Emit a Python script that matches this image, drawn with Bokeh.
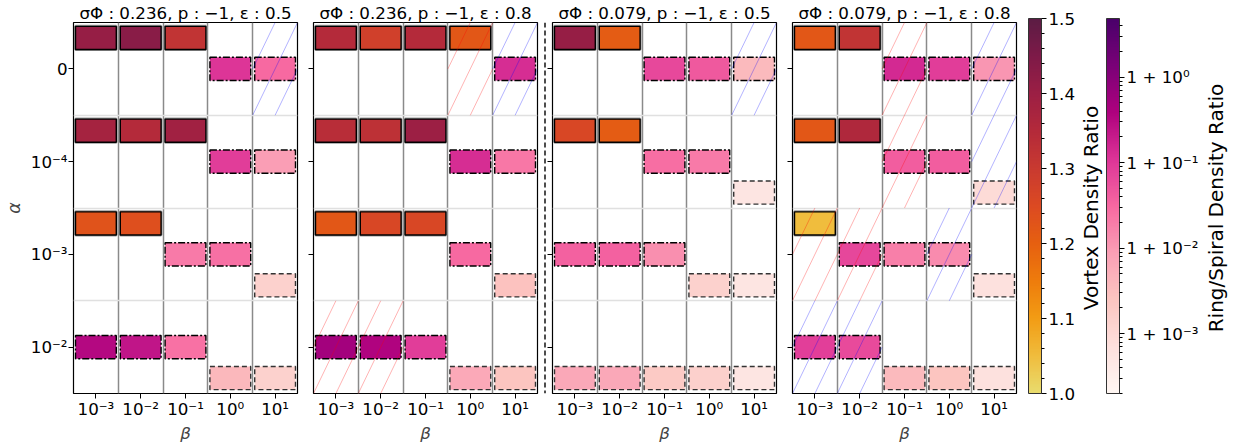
import numpy as np
from bokeh.plotting import figure
from bokeh.models import (ColumnDataSource, Range1d, FixedTicker, LinearColorMapper, LogColorMapper,
                          ColorBar, Label, Span, PrintfTickFormatter)
from bokeh.layouts import row
from bokeh.transform import linear_cmap, log_cmap
from bokeh.embed import file_html
from bokeh.resources import INLINE

FONT = "DejaVu Sans"
FS = "16.7px"
CBFS = "20px"

# ---------------- data ----------------
beta_labels = ["10⁻³", "10⁻²", "10⁻¹", "10⁰", "10¹"]
alpha_labels = ["0", "10⁻⁴", "10⁻³", "10⁻²"]          # top to bottom
sigma_vals = ["0.236", "0.236", "0.079", "0.079"]
p_vals = ["−1", "−1", "−1", "−1"]
eps_vals = ["0.5", "0.8", "0.5", "0.8"]

N = None
# rows: alpha (0, 1e-4, 1e-3, 1e-2); cols: beta (1e-3 .. 1e1)
vortex_1 = [[1.41, 1.43, 1.32, N, N], [1.38, 1.35, 1.39, N, N], [1.23, 1.24, N, N, N], [N, N, N, N, N]]
vortex_2 = [[1.35, 1.28, 1.35, 1.22, N], [1.34, 1.33, 1.40, N, N], [1.22, 1.26, 1.26, N, N], [N, N, N, N, N]]
vortex_3 = [[1.41, 1.21, N, N, N], [1.26, 1.21, N, N, N], [N, N, N, N, N], [N, N, N, N, N]]
vortex_4 = [[1.22, 1.32, N, N, N], [1.22, 1.36, N, N, N], [1.05, N, N, N, N], [N, N, N, N, N]]

# ring density ratio minus 1
ring_1 = [[N, N, N, 0.11, 0.03], [N, N, N, 0.09, 0.009], [N, N, 0.021, 0.026, N], [0.33, 0.24, 0.025, N, N]]
ring_2 = [[N, N, N, N, 0.13], [N, N, N, 0.13, 0.022], [N, N, N, 0.03, N], [0.5, 0.36, 0.09, N, N]]
ring_3 = [[N, N, 0.066, 0.045, 0.0037], [N, N, 0.027, 0.021, N], [0.037, 0.037, 0.013, N, N], [N, N, N, N, N]]
ring_4 = [[N, N, 0.14, 0.09, 0.011], [N, N, 0.04, 0.04, N], [N, 0.07, 0.018, 0.014, N], [0.085, 0.065, N, N, N]]

# spiral density ratio minus 1
spiral_1 = [[N, N, N, N, N], [N, N, N, N, N], [N, N, N, N, 0.0014], [N, N, N, 0.004, 0.0014]]
spiral_2 = [[N, N, N, N, N], [N, N, N, N, N], [N, N, N, N, 0.0028], [N, N, N, 0.0063, 0.0025]]
spiral_3 = [[N, N, N, N, N], [N, N, N, N, 0.00055], [N, N, N, 0.0014, 0.00055], [0.0065, 0.0065, 0.002, 0.0015, 0.00055]]
spiral_4 = [[N, N, N, N, N], [N, N, N, N, 0.0009], [N, N, N, N, 0.0007], [N, N, 0.0037, 0.0025, 0.0007]]

# hatched cells (row, col)
hatch_red_1 = []
hatch_blue_1 = [(0, 4)]
hatch_red_2 = [(0, 3), (3, 0), (3, 1)]
hatch_blue_2 = [(0, 4)]
hatch_red_3 = []
hatch_blue_3 = [(0, 4)]
hatch_red_4 = [(0, 2), (1, 2), (2, 0), (2, 1)]
hatch_blue_4 = [(0, 4), (1, 4), (2, 3), (3, 0), (3, 1)]

vortex_all = [vortex_1, vortex_2, vortex_3, vortex_4]
ring_all = [ring_1, ring_2, ring_3, ring_4]
spiral_all = [spiral_1, spiral_2, spiral_3, spiral_4]
hred_all = [hatch_red_1, hatch_red_2, hatch_red_3, hatch_red_4]
hblue_all = [hatch_blue_1, hatch_blue_2, hatch_blue_3, hatch_blue_4]

vortex_low, vortex_high = 1.0, 1.5
ring_low, ring_high = 2.0e-4, 4.86

# ---------------- palettes ----------------
def interp_palette(anchors, n=256):
    rgb = np.array([[int(h[i:i + 2], 16) for i in (1, 3, 5)] for h in anchors], dtype=float)
    t = np.linspace(0, 1, len(anchors))
    tt = np.linspace(0, 1, n)
    out = []
    for v in tt:
        c = [np.interp(v, t, rgb[:, k]) for k in range(3)]
        out.append("#%02x%02x%02x" % tuple(int(round(x)) for x in c))
    return out

vortex_pal = interp_palette(["#e9dc6e", "#f0bc3c", "#f29c14", "#ee7c0c", "#e66010", "#dc4a22",
                             "#c93a30", "#b42a3a", "#9c1f44", "#7e1a48", "#5c1c44"])
ring_pal = interp_palette(["#fff7f3", "#fde0dd", "#fcc5c0", "#fa9fb5", "#f768a1",
                           "#dd3497", "#ae017e", "#7a0177", "#49006a"])

FRAME_W, FRAME_H = 224, 375
TOP, BOTTOM = 18, 52
H = TOP + FRAME_H + BOTTOM


def cells(arr, dy):
    xs, ys, vs = [], [], []
    for r, rowvals in enumerate(arr):
        for c, v in enumerate(rowvals):
            if v is not None:
                xs.append(c)
                ys.append(3 - r + dy)
                vs.append(v)
    return ColumnDataSource(dict(x=xs, y=ys, v=vs))


def hatch_src(cell_list):
    x0, y0, x1, y1 = [], [], [], []
    for (r, c) in cell_list:
        yc = 3 - r
        xl, xr, yb, yt = c - 0.5, c + 0.5, yc - 0.5, yc + 0.5
        for k in range(-20, 21):
            cst = 0.5 * k
            xa = max(xl, yb - cst)
            xb = min(xr, yt - cst)
            if xb - xa > 1e-9:
                x0.append(xa); y0.append(xa + cst); x1.append(xb); y1.append(xb + cst)
    return ColumnDataSource(dict(x0=x0, y0=y0, x1=x1, y1=y1))


def make_panel(k, bl, br, show_y):
    title_text = "σΦ : %s, p : %s, ε : %s" % (sigma_vals[k], p_vals[k], eps_vals[k])
    p = figure(width=bl + FRAME_W + br, height=H, x_range=Range1d(-0.5, 4.5), y_range=Range1d(-0.5, 3.5),
               toolbar_location=None, output_backend="svg", title=title_text,
               min_border_left=bl, min_border_right=br, min_border_top=TOP, min_border_bottom=BOTTOM)
    p.title.text_font = FONT
    p.title.text_font_size = FS
    p.title.text_font_style = "normal"
    p.title.text_color = "black"
    p.title.align = "center"
    p.title.standoff = 0
    p.title.offset = 0

    p.outline_line_color = "black"
    p.outline_line_width = 1.2
    p.background_fill_color = "white"
    p.border_fill_color = "white"

    xa = p.xaxis[0]
    xa.ticker = FixedTicker(ticks=[0, 1, 2, 3, 4])
    xa.major_label_overrides = {i: s for i, s in enumerate(beta_labels)}
    xa.major_label_text_font = FONT
    xa.major_label_text_font_size = FS
    xa.major_label_text_color = "black"
    xa.major_tick_out = 5
    xa.major_tick_in = 0
    xa.minor_tick_line_color = None
    xa.axis_line_color = None
    xa.major_label_standoff = 0
    xa.axis_label = "β"
    xa.axis_label_text_font = FONT
    xa.axis_label_text_font_size = FS
    xa.axis_label_text_font_style = "italic"
    xa.axis_label_standoff = 1

    ya = p.yaxis[0]
    ya.axis_line_color = None
    if show_y:
        ya.ticker = FixedTicker(ticks=[3, 2, 1, 0])
        ya.major_tick_out = 5
        ya.major_tick_in = 0
        ya.minor_tick_line_color = None
        ya.major_label_overrides = {3 - i: s for i, s in enumerate(alpha_labels)}
        ya.major_label_text_font = FONT
        ya.major_label_text_font_size = FS
        ya.major_label_text_color = "black"
        ya.major_label_standoff = 1
        ya.axis_label = "α"
        ya.axis_label_text_font = FONT
        ya.axis_label_text_font_size = "17.5px"
        ya.axis_label_text_font_style = "italic"
        ya.axis_label_standoff = 4
    else:
        # tick marks only, no labels
        ya.ticker = FixedTicker(ticks=[], minor_ticks=[3, 2, 1, 0])
        ya.major_tick_line_color = None
        ya.minor_tick_out = 5
        ya.minor_tick_in = 0
        ya.minor_tick_line_color = "black"
        ya.minor_tick_line_width = 1

    p.xgrid.ticker = FixedTicker(ticks=[0.5, 1.5, 2.5, 3.5])
    p.xgrid.grid_line_color = "#8a8a8a"
    p.xgrid.grid_line_width = 1.5
    p.ygrid.ticker = FixedTicker(ticks=[0.5, 1.5, 2.5])
    p.ygrid.grid_line_color = "#e0e0e0"
    p.ygrid.grid_line_width = 1.6

    bw, bh = 0.91, 0.25
    vs = cells(vortex_all[k], 1.0 / 3.0)
    p.rect("x", "y", width=bw, height=bh, source=vs, fill_color=None, line_color="#9a9a9a", line_width=3)
    p.rect("x", "y", width=bw, height=bh, source=vs,
           fill_color=linear_cmap("v", vortex_pal, vortex_low, vortex_high),
           line_color="black", line_width=1.4)
    rs = cells(ring_all[k], 0.0)
    p.rect("x", "y", width=bw, height=bh, source=rs,
           fill_color=log_cmap("v", ring_pal, ring_low, ring_high),
           line_color="black", line_width=1.4, line_dash="7 2 2 2")
    ss = cells(spiral_all[k], -1.0 / 3.0)
    p.rect("x", "y", width=bw, height=bh, source=ss,
           fill_color=log_cmap("v", ring_pal, ring_low, ring_high),
           line_color="#333333", line_width=1.4, line_dash="5 3")

    p.segment("x0", "y0", "x1", "y1", source=hatch_src(hred_all[k]), line_color="red", line_alpha=0.3, line_width=1)
    p.segment("x0", "y0", "x1", "y1", source=hatch_src(hblue_all[k]), line_color="blue", line_alpha=0.3, line_width=1)
    return p


f1 = make_panel(0, 73, 8, True)
f2 = make_panel(1, 8, 2, False)
f3 = make_panel(2, 5, 11, False)
f4 = make_panel(3, 5, 4, False)

sep = figure(width=8, height=H, x_range=Range1d(0, 8), y_range=Range1d(0, 1), toolbar_location=None,
             output_backend="svg", title_location=None, x_axis_location=None, y_axis_location=None,
             min_border_left=0, min_border_right=0, min_border_top=TOP, min_border_bottom=BOTTOM)
sep.outline_line_color = None
sep.xgrid.visible = False
sep.ygrid.visible = False
sep.add_layout(Span(location=5.5, dimension="height", line_color="black", line_width=1.4, line_dash="5 3"))

CBW = 212
cb = figure(width=CBW, height=H, x_range=Range1d(0, CBW), y_range=Range1d(0, FRAME_H), toolbar_location=None,
            output_backend="svg", title_location=None, x_axis_location=None, y_axis_location=None,
            min_border_left=0, min_border_right=0, min_border_top=TOP, min_border_bottom=BOTTOM)
cb.outline_line_color = None
cb.xgrid.visible = False
cb.ygrid.visible = False

vortex_ticks = [1.0, 1.1, 1.2, 1.3, 1.4, 1.5]
vortex_minor = [round(1.0 + 0.02 * i, 2) for i in range(26) if i % 5 != 0]
vmap = LinearColorMapper(palette=vortex_pal, low=vortex_low, high=vortex_high)
cb1 = ColorBar(color_mapper=vmap, location=(8, 0), width=13, height=FRAME_H, padding=0, margin=0,
               orientation="vertical",
               ticker=FixedTicker(ticks=vortex_ticks, minor_ticks=vortex_minor),
               formatter=PrintfTickFormatter(format="%.1f"),
               major_label_text_font=FONT, major_label_text_font_size=FS, major_label_text_color="black",
               major_tick_in=0, major_tick_out=5, minor_tick_in=0, minor_tick_out=3,
               major_tick_line_color="black", minor_tick_line_color="black",
               bar_line_color="#333333", bar_line_width=1, label_standoff=2,
               background_fill_alpha=0, border_line_color=None)
cb.add_layout(cb1, "center")

ring_ticks = [1e-3, 1e-2, 1e-1, 1.0]
ring_tick_labels = ["1 + 10⁻³", "1 + 10⁻²", "1 + 10⁻¹", "1 + 10⁰"]
ring_minor = [m * 10.0 ** e for e in range(-4, 1) for m in range(2, 10) if ring_low <= m * 10.0 ** e <= ring_high]
rmap = LogColorMapper(palette=ring_pal, low=ring_low, high=ring_high)
cb2 = ColorBar(color_mapper=rmap, location=(86, 0), width=13, height=FRAME_H, padding=0, margin=0,
               orientation="vertical",
               ticker=FixedTicker(ticks=ring_ticks, minor_ticks=ring_minor),
               major_label_overrides=dict(zip(ring_ticks, ring_tick_labels)),
               major_label_text_font=FONT, major_label_text_font_size=FS, major_label_text_color="black",
               major_tick_in=0, major_tick_out=5, minor_tick_in=0, minor_tick_out=3,
               major_tick_line_color="black", minor_tick_line_color="black",
               bar_line_color="#333333", bar_line_width=1, label_standoff=2,
               background_fill_alpha=0, border_line_color=None)
cb.add_layout(cb2, "center")

cb.add_layout(Label(x=70, y=FRAME_H / 2, text="Vortex Density Ratio", angle=np.pi / 2, text_align="center",
                    text_baseline="middle", text_font=FONT, text_font_size=CBFS, text_color="black"))
cb.add_layout(Label(x=195, y=FRAME_H / 2, text="Ring/Spiral Density Ratio", angle=np.pi / 2, text_align="center",
                    text_baseline="middle", text_font=FONT, text_font_size=CBFS, text_color="black"))

layout = row(f1, f2, sep, f3, f4, cb)

open("out.html", "w").write(file_html(layout, INLINE))
